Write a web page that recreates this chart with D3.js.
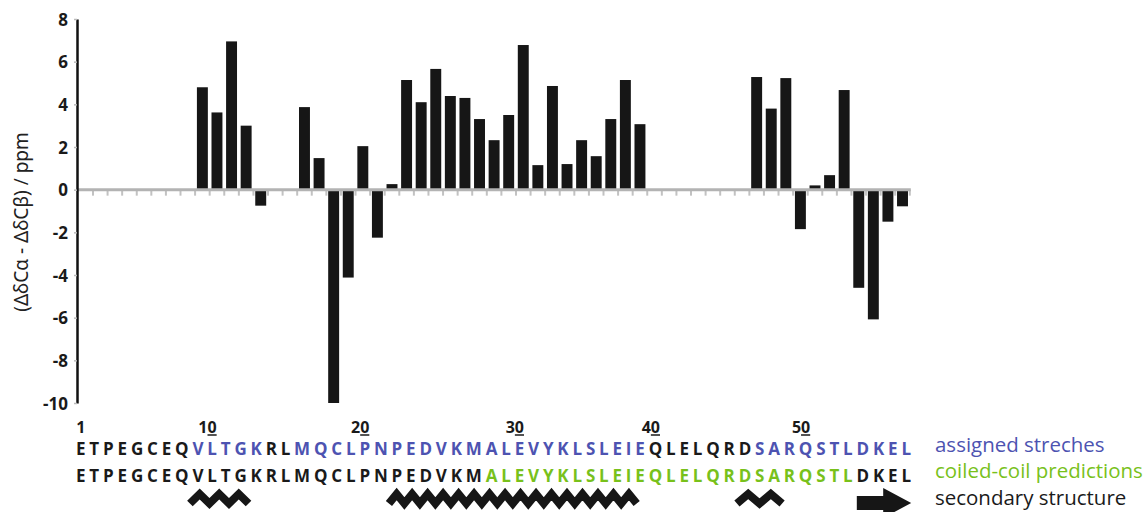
<!DOCTYPE html>
<html lang="en">
<head>
	<meta charset="UTF-8">
	<title>chemical shift index</title>
	<style>
		body { margin: 0; background: #fff; }
		text { font-family: "Open Sans", "Noto Sans", sans-serif; }
	</style>
</head>
<body>
	<svg id="cont" width="1146" height="512">
		<g id="bars"></g>
		<g id="zero"></g>
		<g id="yaxis"></g>
		<g id="ytitle"></g>
		<g id="seq"></g>
		<g id="ss"></g>
		<g id="legend"></g>
	</svg>
<script src="https://cdn.jsdelivr.net/npm/d3@7"></script>
<script>
	// residues 1..57
	let sequence = "ETPEGCEQVLTGKRLMQCLPNPEDVKMALEVYKLSLEIEQLELQRDSARQSTLDKEL".split("");
	// (ΔδCα - ΔδCβ) per residue, null = not assigned
	let shifts = [
		null, null, null, null, null, null, null, null, 4.8, 3.62,
		6.95, 3.0, -0.75, null, null, 3.87, 1.48, -10, -4.12, 2.04,
		-2.25, 0.26, 5.14, 4.1, 5.66, 4.39, 4.3, 3.31, 2.32, 3.5,
		6.78, 1.15, 4.86, 1.2, 2.32, 1.57, 3.31, 5.14, 3.07, null,
		null, null, null, null, null, null, 5.28, 3.8, 5.23, -1.85,
		0.2, 0.68, 4.67, -4.6, -6.08, -1.5, -0.78
	];
	let yTicks = [-10, -8, -6, -4, -2, 0, 2, 4, 6, 8];
	let numberLabels = [1, 10, 20, 30, 40, 50];
	let assigned = [[9, 13], [16, 39], [47, 57]];
	let coiledCoil = [[28, 53]];
	let helices = [[9, 12], [22, 38], [46, 48]];
	let strands = [[54, 57]];
	let legendLabels = ["assigned streches", "coiled-coil predictions", "secondary structure"];
	let legendColors = ["#4d53b1", "#78c11b", "#1a1a1a"];

	let svg = d3.select("#cont");
	let residues = d3.range(1, sequence.length + 1);

	let x = d3.scaleBand()
		.domain(residues)
		.range([78.4, 909.8])
		.paddingInner(0.25)
		.paddingOuter(0.125);
	let y = d3.scaleLinear()
		.domain([-10, 8])
		.range([403, 19]);

	// bars
	let data = shifts.map((v, i) => ({res: i + 1, v: v})).filter(d => d.v !== null);
	d3.select("#bars").selectAll("rect")
		.data(data)
		.join("rect")
		.attr("fill", "#161616")
		.attr("x", d => x(d.res))
		.attr("width", x.bandwidth())
		.attr("y", d => y(Math.max(0, d.v)) + (d.v < 0 ? 1 : 0))
		.attr("height", d => Math.abs(y(d.v) - y(0)) - (d.v < 0 ? 1 : 0));

	// zero line with small ticks between residues
	let zero = d3.select("#zero");
	let step = x.step();
	zero.selectAll("line.tk")
		.data(residues)
		.join("line")
		.attr("class", "tk")
		.attr("x1", d => x.range()[0] + d * step)
		.attr("x2", d => x.range()[0] + d * step)
		.attr("y1", y(0))
		.attr("y2", y(0) + 6)
		.attr("stroke", "#c2c2c2")
		.attr("stroke-width", 2);
	zero.append("line")
		.attr("x1", 77).attr("x2", x.range()[1] + 1)
		.attr("y1", y(0)).attr("y2", y(0))
		.attr("stroke", "#b3b3b3")
		.attr("stroke-width", 3);

	// y axis
	let yaxis = d3.axisLeft(y)
		.tickValues(yTicks)
		.tickFormat(d => String(d))
		.tickSize(3)
		.tickSizeOuter(0)
		.tickPadding(6);
	let ya = d3.select("#yaxis")
		.attr("transform", "translate(77,0)")
		.call(yaxis);
	ya.select(".domain").attr("stroke", "#111").attr("stroke-width", 2.5);
	ya.selectAll(".tick line").attr("stroke", "#bbb").attr("stroke-width", 1.5);
	ya.selectAll(".tick text")
		.attr("fill", "#1a1a1a")
		.attr("dy", "0.36em")
		.style("font-family", "'Open Sans', sans-serif")
		.style("font-weight", "700")
		.style("font-size", "17px");

	d3.select("#ytitle").append("text")
		.attr("transform", "translate(28,222) rotate(-90)")
		.attr("text-anchor", "middle")
		.attr("fill", "#222")
		.style("font-family", "'Noto Sans', sans-serif")
		.style("font-size", "19px")
		.text("(ΔδCα - ΔδCβ) / ppm");

	// sequence rows: measure each letter, spread them over the row
	let seq = d3.select("#seq");
	let meas = seq.append("text").style("font-weight", "700").style("font-size", "17px");
	let widths = sequence.map(c => { meas.text(c); return meas.node().getComputedTextLength(); });
	meas.remove();
	let rowLeft = 76, rowRight = 911;
	let gap = (rowRight - rowLeft - d3.sum(widths)) / (sequence.length - 1);
	let starts = [];
	let acc = rowLeft;
	widths.forEach(w => { starts.push(acc); acc += w + gap; });
	let cx = r => starts[r - 1] + widths[r - 1] / 2;

	function inRanges(r, ranges) {
		return ranges.some(g => r >= g[0] && r <= g[1]);
	}
	let rows = [
		{y: 455, ranges: assigned, color: legendColors[0]},
		{y: 482, ranges: coiledCoil, color: legendColors[1]}
	];
	rows.forEach(row => {
		seq.append("g").selectAll("text")
			.data(residues)
			.join("text")
			.attr("x", d => starts[d - 1])
			.attr("y", row.y)
			.attr("fill", d => inRanges(d, row.ranges) ? row.color : "#1a1a1a")
			.style("font-weight", "700")
			.style("font-size", "17px")
			.text(d => sequence[d - 1]);
	});

	// residue numbers, last digit sits over the residue and is underlined
	let nm = seq.append("text").style("font-weight", "700").style("font-size", "16px").text("0");
	let dw = nm.node().getComputedTextLength();
	nm.remove();
	let nums = seq.append("g").selectAll("g")
		.data(numberLabels)
		.join("g");
	nums.append("text")
		.attr("x", d => cx(d) + dw / 2)
		.attr("y", 433)
		.attr("text-anchor", "end")
		.attr("fill", "#1a1a1a")
		.style("font-weight", "700")
		.style("font-size", "16px")
		.text(d => d);
	nums.filter(d => d >= 10).append("line")
		.attr("x1", d => cx(d) - dw / 2)
		.attr("x2", d => cx(d) + dw / 2)
		.attr("y1", 435).attr("y2", 435)
		.attr("stroke", "#1a1a1a")
		.attr("stroke-width", 1.5);

	// secondary structure: helices as zigzags, strand as arrow
	let ss = d3.select("#ss");
	let zig = d3.line();
	helices.forEach(h => {
		let x0 = cx(h[0]) - 8, x1 = cx(h[1]) + 8;
		let n = h[1] - h[0];
		let half = (x1 - x0) / (2 * n);
		let pts = d3.range(2 * n + 1).map(k => [x0 + k * half, k % 2 ? 494 : 503.5]);
		ss.append("path")
			.attr("d", zig(pts))
			.attr("fill", "none")
			.attr("stroke", "#161616")
			.attr("stroke-width", 8)
			.attr("stroke-linejoin", "miter");
	});
	strands.forEach(s => {
		let x0 = cx(s[0]) - 6, x1 = cx(s[1]) + 5, hs = x1 - 28, yc = 503;
		let pts = [[x0, yc - 7], [hs, yc - 7], [hs, yc - 15], [x1, yc], [hs, yc + 15], [hs, yc + 7], [x0, yc + 7]];
		ss.append("path")
			.attr("d", zig(pts) + "Z")
			.attr("fill", "#161616");
	});

	// legend on the right
	let lg = d3.select("#legend");
	let lm = lg.append("text").style("font-size", "18px").text(legendLabels[1]);
	let lfs = 18 * 208 / lm.node().getComputedTextLength();
	lm.remove();
	lg.selectAll("text")
		.data(legendLabels)
		.join("text")
		.attr("x", 935)
		.attr("y", (d, i) => [452, 478, 505][i])
		.attr("fill", (d, i) => legendColors[i])
		.style("font-size", lfs + "px")
		.text(d => d);
</script>
</body>
</html>
